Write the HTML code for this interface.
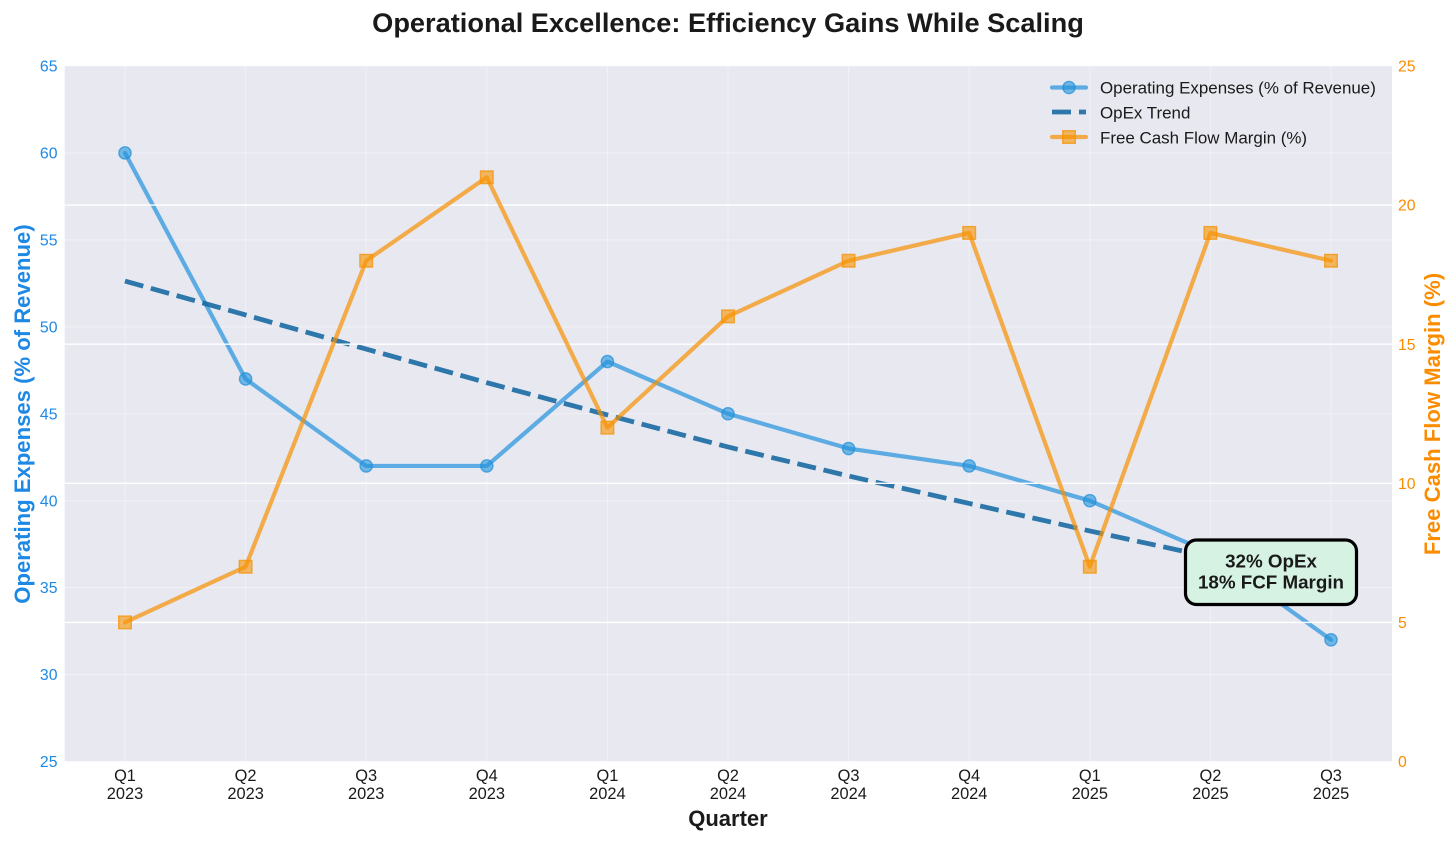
<!DOCTYPE html>
<html lang="en">
<head>
<meta charset="utf-8">
<title>Operational Excellence: Efficiency Gains While Scaling</title>
<style>
html,body{margin:0;padding:0;background:#fff;width:1456px;height:842px;overflow:hidden}
svg{display:block;font-family:"Liberation Sans",sans-serif}
</style>
</head>
<body>
<svg id="chart" width="1456" height="842" viewBox="0 0 1456 842" xmlns="http://www.w3.org/2000/svg">
  <rect x="0" y="0" width="1456" height="842" fill="#ffffff"/>
  <text x="728" y="32" text-anchor="middle" font-size="27.2" font-weight="bold" fill="#1a1a1a">Operational Excellence: Efficiency Gains While Scaling</text>
  <rect x="64.7" y="66" width="1327.3" height="695.5" fill="#e8e8f1"/>
  <g id="leftGrid"></g>
  <g id="opexLayer"></g>
  <g id="rightGrid"></g>
  <g id="fcfLayer"></g>
  <g id="leftTicks"></g>
  <g id="rightTicks"></g>
  <g id="xTicks"></g>
  <text x="728" y="826" text-anchor="middle" font-size="22" font-weight="bold" fill="#1a1a1a">Quarter</text>
  <text transform="translate(30,414) rotate(-90)" text-anchor="middle" font-size="22.1" font-weight="bold" fill="#1e88e5">Operating Expenses (% of Revenue)</text>
  <text transform="translate(1440,414) rotate(-90)" text-anchor="middle" font-size="22.1" font-weight="bold" fill="#fb8c00">Free Cash Flow Margin (%)</text>

  <g>
    <g>
      <line x1="1052" y1="87.5" x2="1086" y2="87.5" stroke="#2192db" stroke-opacity="0.7" stroke-width="4.2" stroke-linecap="round"/>
      <circle cx="1069" cy="87.5" r="6.1" fill="#2192db" fill-opacity="0.6" stroke="#2192db" stroke-opacity="0.75" stroke-width="1.4"/>
      <text x="1100" y="93.5" font-size="16.95" fill="#1a1a1a">Operating Expenses (% of Revenue)</text>
    </g>
    <g>
      <line x1="1052" y1="112" x2="1086" y2="112" stroke="#1a6aa3" stroke-opacity="0.9" stroke-width="4.8" stroke-dasharray="19 8"/>
      <text x="1100" y="118.5" font-size="16.95" fill="#1a1a1a">OpEx Trend</text>
    </g>
    <g>
      <line x1="1052" y1="137" x2="1086" y2="137" stroke="#f69200" stroke-opacity="0.7" stroke-width="4.2" stroke-linecap="round"/>
      <rect x="1062.7" y="130.7" width="12.6" height="12.6" fill="#f69200" fill-opacity="0.6" stroke="#f69200" stroke-opacity="0.75" stroke-width="1.4"/>
      <text x="1100" y="143.3" font-size="16.95" fill="#1a1a1a">Free Cash Flow Margin (%)</text>
    </g>
  </g>

  <g>
    <rect x="1185.5" y="540" width="171" height="64.5" rx="11" ry="11" fill="#d5f2e3" stroke="#000000" stroke-width="3.2"/>
    <text x="1271" y="567.5" text-anchor="middle" font-size="18.8" font-weight="bold" fill="#1a1a1a">32% OpEx</text>
    <text x="1271" y="588.5" text-anchor="middle" font-size="18.8" font-weight="bold" fill="#1a1a1a">18% FCF Margin</text>
  </g>
</svg>
<script>
const quarters = ["Q1","Q2","Q3","Q4","Q1","Q2","Q3","Q4","Q1","Q2","Q3"];
const years = ["2023","2023","2023","2023","2024","2024","2024","2024","2025","2025","2025"];
const opexValues = [60,47,42,42,48,45,43,42,40,37,32];
const trendValues = [52.63,50.68,48.72,46.79,44.93,43.09,41.42,39.84,38.26,36.76,35.4];
const fcfValues = [5,7,18,21,12,16,18,19,7,19,18];
const leftTickLabels = [25,30,35,40,45,50,55,60,65];
const rightTickLabels = [0,5,10,15,20,25];

const NS = "http://www.w3.org/2000/svg";
const plotLeft = 64.7, plotRight = 1392, plotTop = 66, plotBottom = 761.5;
const firstX = 125, stepX = 120.6;
const leftMin = 25, leftMax = 65, rightMin = 0, rightMax = 25;
function xScale(i){ return firstX + i * stepX; }
function yLeft(v){ return plotBottom - (v - leftMin) / (leftMax - leftMin) * (plotBottom - plotTop); }
function yRight(v){ return plotBottom - (v - rightMin) / (rightMax - rightMin) * (plotBottom - plotTop); }
function make(tag, attrs, parent, txt){
  const el = document.createElementNS(NS, tag);
  for (const k in attrs) el.setAttribute(k, attrs[k]);
  if (txt !== undefined) el.textContent = txt;
  parent.appendChild(el);
  return el;
}
const leftGrid = document.getElementById("leftGrid");
const rightGrid = document.getElementById("rightGrid");
const leftTicks = document.getElementById("leftTicks");
const rightTicks = document.getElementById("rightTicks");
const xTicks = document.getElementById("xTicks");
const opexLayer = document.getElementById("opexLayer");
const fcfLayer = document.getElementById("fcfLayer");

quarters.forEach(function(q, i){
  const x = xScale(i);
  const g = make("line", {x1:x, x2:x, y1:plotTop, y2:plotBottom, stroke:"#ffffff", "stroke-opacity":0.4, "stroke-width":1}, leftGrid);
  
  
  const t1 = make("text", {x:x, y:781, "text-anchor":"middle", "font-size":16.4, fill:"#1a1a1a"}, xTicks, q);
  
  
  const t2 = make("text", {x:x, y:799, "text-anchor":"middle", "font-size":16.4, fill:"#1a1a1a"}, xTicks, years[i]);
  
  
});

leftTickLabels.forEach(function(v){
  const y = yLeft(v);
  const g = make("line", {x1:plotLeft, x2:plotRight, y1:y, y2:y, stroke:"#ffffff", "stroke-opacity":0.4, "stroke-width":1}, leftGrid);
  
  
  const t = make("text", {x:57.5, y:y + 5.6, "text-anchor":"end", "font-size":15.8, fill:"#1e88e5"}, leftTicks, String(v));
  
  
});

rightTickLabels.forEach(function(v){
  const y = yRight(v);
  if (v > rightMin && v < rightMax) {
    const g = make("line", {x1:plotLeft, x2:plotRight, y1:y, y2:y, stroke:"#ffffff", "stroke-width":1.4}, rightGrid);
    
    
  }
  const t = make("text", {x:1398, y:y + 5.6, "font-size":15.8, fill:"#fb8c00"}, rightTicks, String(v));
  
  
});

function pointsOf(values, yFn){
  return values.map(function(v, i){ return xScale(i) + "," + yFn(v); }).join(" ");
}

const opexLine = make("polyline", {points:pointsOf(opexValues, yLeft), fill:"none", stroke:"#2192db", "stroke-opacity":0.7, "stroke-width":4.2, "stroke-linejoin":"round", "stroke-linecap":"round"}, opexLayer);


opexValues.forEach(function(v, i){
  const c = make("circle", {cx:xScale(i), cy:yLeft(v), r:6.1, fill:"#2192db", "fill-opacity":0.6, stroke:"#2192db", "stroke-opacity":0.75, "stroke-width":1.4}, opexLayer);
  
  
});
const trendLine = make("polyline", {points:pointsOf(trendValues, yLeft), fill:"none", stroke:"#1a6aa3", "stroke-opacity":0.9, "stroke-width":4.8, "stroke-dasharray":"19 7.8"}, opexLayer);



const fcfLine = make("polyline", {points:pointsOf(fcfValues, yRight), fill:"none", stroke:"#f69200", "stroke-opacity":0.7, "stroke-width":4.2, "stroke-linejoin":"round", "stroke-linecap":"round"}, fcfLayer);


fcfValues.forEach(function(v, i){
  const r = make("rect", {x:xScale(i) - 6.3, y:yRight(v) - 6.3, width:12.6, height:12.6, fill:"#f69200", "fill-opacity":0.6, stroke:"#f69200", "stroke-opacity":0.75, "stroke-width":1.4}, fcfLayer);
  
  
});
</script>
</body>
</html>
